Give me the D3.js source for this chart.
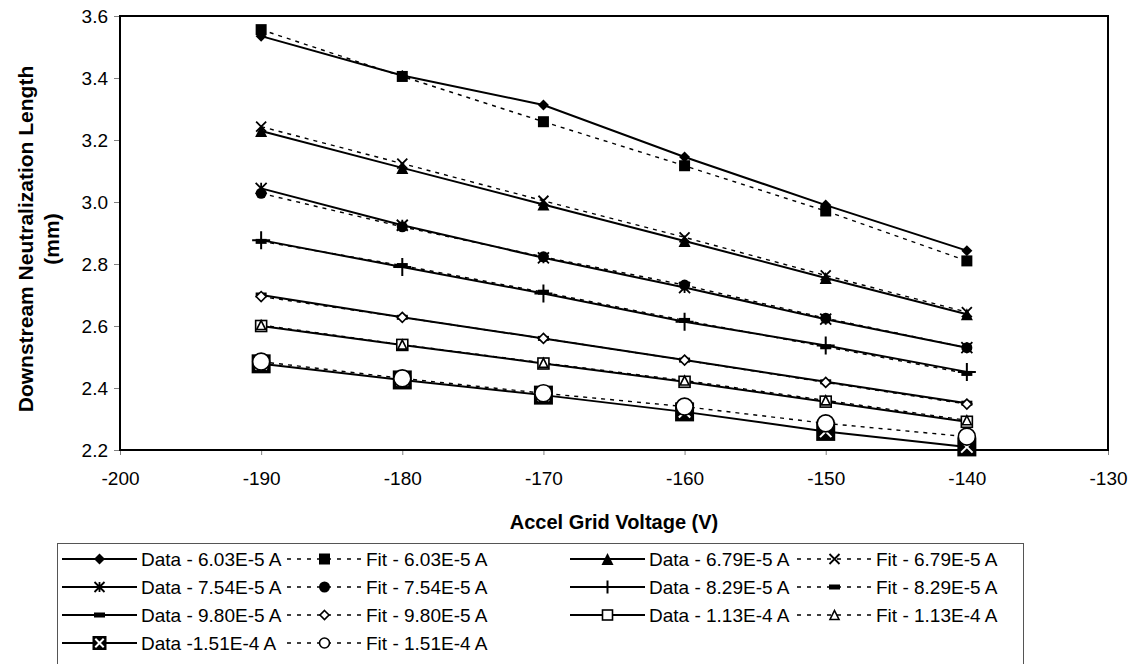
<!DOCTYPE html>
<html>
<head>
<meta charset="utf-8">
<script src="https://cdn.jsdelivr.net/npm/d3@7"></script>
<style>
  html, body { margin: 0; padding: 0; background: #fff; }
  svg { display: block; font-family: "Liberation Sans", Arial, sans-serif; }
</style>
</head>
<body>
<svg id="chart" width="1138" height="664"></svg>
<script>
// ---------- DATA ----------
const voltages = [-190, -180, -170, -160, -150, -140];

const data603 = [3.535, 3.408, 3.313, 3.145, 2.990, 2.843];
const fit603  = [3.556, 3.405, 3.259, 3.117, 2.971, 2.810];
const data679 = [3.229, 3.110, 2.992, 2.874, 2.755, 2.638];
const fit679  = [3.243, 3.124, 3.004, 2.886, 2.763, 2.645];
const data754 = [3.044, 2.925, 2.820, 2.724, 2.622, 2.530];
const fit754  = [3.028, 2.920, 2.823, 2.732, 2.625, 2.530];
const data829 = [2.877, 2.790, 2.705, 2.614, 2.537, 2.452];
const fit829  = [2.873, 2.795, 2.709, 2.618, 2.533, 2.447];
const data980 = [2.700, 2.628, 2.560, 2.490, 2.420, 2.351];
const fit980  = [2.695, 2.628, 2.560, 2.490, 2.418, 2.348];
const data113 = [2.600, 2.539, 2.479, 2.420, 2.356, 2.291];
const fit113  = [2.603, 2.540, 2.481, 2.424, 2.360, 2.296];
const data151 = [2.478, 2.426, 2.377, 2.323, 2.260, 2.210];
const fit151  = [2.485, 2.431, 2.383, 2.340, 2.286, 2.243];

const seriesNames = [
  "Data - 6.03E-5 A", "Fit - 6.03E-5 A",
  "Data - 6.79E-5 A", "Fit - 6.79E-5 A",
  "Data - 7.54E-5 A", "Fit - 7.54E-5 A",
  "Data - 8.29E-5 A", "Fit - 8.29E-5 A",
  "Data - 9.80E-5 A", "Fit - 9.80E-5 A",
  "Data - 1.13E-4 A", "Fit - 1.13E-4 A",
  "Data -1.51E-4 A",  "Fit - 1.51E-4 A"
];
const seriesValues = [data603, fit603, data679, fit679, data754, fit754,
                      data829, fit829, data980, fit980, data113, fit113, data151, fit151];
const seriesMarkers = ["diamond", "square", "triangle", "x", "asterisk", "circle",
                       "plus", "dash", "dash", "diamondOpen", "squareOpen", "triangleOpen",
                       "squareX", "circleOpen"];
const seriesDashed = [false, true, false, true, false, true, false, true,
                      false, true, false, true, false, true];

const xTicks = [-200, -190, -180, -170, -160, -150, -140, -130];
const yTicks = [2.2, 2.4, 2.6, 2.8, 3.0, 3.2, 3.4, 3.6];

const xTitle = "Accel Grid Voltage (V)";
const yTitleLines = ["Downstream Neutralization Length", "(mm)"];

// ---------- STYLE / LAYOUT ----------
const plot = { left: 120, right: 1108, top: 16, bottom: 450 };
const markerSizePlot = { diamond: 11, square: 11, triangle: 12, x: 10, asterisk: 11, circle: 11,
  plus: 18, dash: 11, diamondOpen: 10, squareOpen: 11, triangleOpen: 9, squareX: 19, circleOpen: 17 };
const markerSizeLegend = { diamond: 11, square: 11, triangle: 12, x: 10, asterisk: 10, circle: 11,
  plus: 13, dash: 11, diamondOpen: 9, squareOpen: 10, triangleOpen: 9, squareX: 14, circleOpen: 10 };

const svg = d3.select("#chart");

const x = d3.scaleLinear().domain([-200, -130]).range([plot.left, plot.right]);
const y = d3.scaleLinear().domain([2.2, 3.6]).range([plot.bottom, plot.top]);

function drawMarker(g, type, s) {
  const h = s / 2;
  switch (type) {
    case "diamond":
      g.append("path").attr("d", `M0,${-h}L${h},0L0,${h}L${-h},0Z`).attr("fill", "#000");
      break;
    case "square":
      g.append("rect").attr("x", -h).attr("y", -h).attr("width", s).attr("height", s).attr("fill", "#000");
      break;
    case "triangle":
      g.append("path").attr("d", `M0,${-h}L${h},${h}L${-h},${h}Z`).attr("fill", "#000");
      break;
    case "x":
      g.append("path").attr("d", `M${-h},${-h}L${h},${h}M${h},${-h}L${-h},${h}`)
        .attr("stroke", "#000").attr("stroke-width", 1.8).attr("fill", "none");
      break;
    case "asterisk":
      g.append("path").attr("d", `M${-h},${-h}L${h},${h}M${h},${-h}L${-h},${h}M0,${-h}L0,${h}`)
        .attr("stroke", "#000").attr("stroke-width", 1.8).attr("fill", "none");
      break;
    case "circle":
      g.append("circle").attr("r", h).attr("fill", "#000");
      break;
    case "plus":
      g.append("path").attr("d", `M${-h},0L${h},0M0,${-h}L0,${h}`)
        .attr("stroke", "#000").attr("stroke-width", 2).attr("fill", "none");
      break;
    case "dash":
      g.append("rect").attr("x", -h).attr("y", -2.5).attr("width", s).attr("height", 5).attr("fill", "#000");
      break;
    case "diamondOpen":
      g.append("path").attr("d", `M0,${-h}L${h},0L0,${h}L${-h},0Z`)
        .attr("fill", "#fff").attr("stroke", "#000").attr("stroke-width", 1.6);
      break;
    case "squareOpen":
      g.append("rect").attr("x", -h).attr("y", -h).attr("width", s).attr("height", s)
        .attr("fill", "#fff").attr("stroke", "#000").attr("stroke-width", 1.6);
      break;
    case "triangleOpen":
      g.append("path").attr("d", `M0,${-h}L${h},${h}L${-h},${h}Z`)
        .attr("fill", "#fff").attr("stroke", "#000").attr("stroke-width", 1.6);
      break;
    case "squareX": {
      g.append("rect").attr("x", -h).attr("y", -h).attr("width", s).attr("height", s).attr("fill", "#000");
      const k = h * 0.6;
      g.append("path").attr("d", `M${-k},${-k}L${k},${k}M${k},${-k}L${-k},${k}`)
        .attr("stroke", "#fff").attr("stroke-width", 2).attr("fill", "none");
      break;
    }
    case "circleOpen":
      g.append("circle").attr("r", h)
        .attr("fill", "#fff").attr("stroke", "#000").attr("stroke-width", 1.6);
      break;
  }
}

// ---------- AXES ----------
const xAxis = d3.axisBottom(x).tickValues(xTicks).tickSize(5).tickSizeOuter(0)
  .tickFormat(d3.format("d"));
const yAxis = d3.axisLeft(y).tickValues(yTicks).tickSize(6).tickSizeOuter(0)
  .tickFormat(d3.format(".1f"));

const gx = svg.append("g").attr("transform", `translate(0,${plot.bottom})`).call(xAxis);
gx.select(".domain").remove();
gx.selectAll(".tick line").attr("stroke", "#808080").attr("stroke-width", 1);
gx.selectAll(".tick text").attr("font-size", 19).attr("fill", "#000")
  .attr("font-family", "Liberation Sans, Arial, sans-serif").attr("dy", null).attr("y", 35);
gx.selectAll(".tick text").text(d => d3.format("d")(d).replace("\u2212", "-"));

const gy = svg.append("g").attr("transform", `translate(${plot.left},0)`).call(yAxis);
gy.select(".domain").remove();
gy.selectAll(".tick line").attr("stroke", "#808080").attr("stroke-width", 1);
gy.selectAll(".tick text").attr("font-size", 19).attr("fill", "#000")
  .attr("font-family", "Liberation Sans, Arial, sans-serif").attr("x", -12).attr("dy", "0.35em");

// plot frame
svg.append("rect")
  .attr("x", plot.left).attr("y", plot.top)
  .attr("width", plot.right - plot.left).attr("height", plot.bottom - plot.top)
  .attr("fill", "none").attr("stroke", "#000").attr("stroke-width", 2);

// ---------- SERIES ----------
const line = d3.line().x((d, i) => x(voltages[i])).y(d => y(d));

seriesValues.forEach((vals, si) => {
  svg.append("path")
    .datum(vals)
    .attr("d", line)
    .attr("fill", "none")
    .attr("stroke", "#000")
    .attr("stroke-width", seriesDashed[si] ? 1.4 : 2)
    .attr("stroke-dasharray", seriesDashed[si] ? "4,5" : null);
});
seriesValues.forEach((vals, si) => {
  vals.forEach((v, i) => {
    const g = svg.append("g").attr("transform", `translate(${x(voltages[i])},${y(v)})`);
    drawMarker(g, seriesMarkers[si], markerSizePlot[seriesMarkers[si]]);
  });
});

// ---------- TITLES ----------
svg.append("text")
  .attr("x", (plot.left + plot.right) / 2).attr("y", 529)
  .attr("text-anchor", "middle").attr("font-size", 20).attr("font-weight", "bold")
  .text(xTitle);

yTitleLines.forEach((t, i) => {
  svg.append("text")
    .attr("transform", `translate(${33 + i * 26},${(plot.top + plot.bottom) / 2 + 6}) rotate(-90)`)
    .attr("text-anchor", "middle").attr("font-size", 21).attr("font-weight", "bold")
    .text(t);
});

// ---------- LEGEND ----------
const legendBox = { left: 57, right: 1023, top: 543, bottom: 670 };
svg.append("rect")
  .attr("x", legendBox.left + 0.5).attr("y", legendBox.top + 0.5)
  .attr("width", legendBox.right - legendBox.left).attr("height", legendBox.bottom - legendBox.top)
  .attr("fill", "#fff").attr("stroke", "#555").attr("stroke-width", 1);

const colStarts = [62, 287, 570, 797];
const lineLen = 75;
const rowY0 = 559, rowStep = 28;

seriesNames.forEach((name, si) => {
  const row = Math.floor(si / 4), col = si % 4;
  const cy = rowY0 + row * rowStep;
  const x0 = colStarts[col];
  const g = svg.append("g");
  g.append("line")
    .attr("x1", x0).attr("x2", x0 + lineLen).attr("y1", cy).attr("y2", cy)
    .attr("stroke", "#000").attr("stroke-width", seriesDashed[si] ? 1.6 : 2)
    .attr("stroke-dasharray", seriesDashed[si] ? "4,6" : null);
  const mg = g.append("g").attr("transform", `translate(${x0 + lineLen / 2},${cy})`);
  drawMarker(mg, seriesMarkers[si], markerSizeLegend[seriesMarkers[si]]);
  g.append("text")
    .attr("x", x0 + lineLen + 4).attr("y", cy + 7)
    .attr("font-size", 19).attr("fill", "#000")
    .text(name);
});
</script>
</body>
</html>
